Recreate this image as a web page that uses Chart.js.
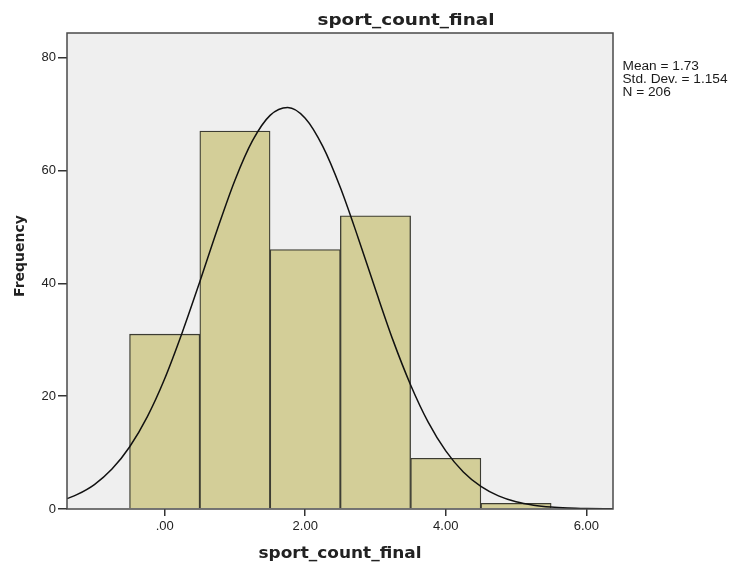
<!DOCTYPE html>
<html>
<head>
<meta charset="utf-8">
<script src="https://cdn.jsdelivr.net/npm/chart.js@4"></script>
<style>
  html, body { margin: 0; padding: 0; background: #fff; }
  #wrap { width: 737px; height: 565px; }
</style>
</head>
<body>
<div id="wrap"><canvas id="hist" width="737" height="565"></canvas></div>
<script>
/* histogram of sport_count_final, SPSS style */

var binCenters = [0, 1, 2, 3, 4, 5];
var binCounts = [31, 67, 46, 52, 9, 1];

/* normal curve */
var curveX = [-1.39, -1.25, -1.0, -0.75, -0.5, -0.25, 0, 0.25, 0.5, 0.75, 1.0, 1.25, 1.5, 1.75,
  2.0, 2.25, 2.5, 2.75, 3.0, 3.25, 3.5, 3.75, 4.0, 4.25, 4.5, 4.75, 5.0, 5.25, 5.5, 5.75, 6.0, 6.25, 6.38];
var curveY = [1.84, 2.54, 4.34, 7.08, 11.0, 16.3, 23.1, 31.3, 40.3, 49.6, 58.3, 65.3, 69.8, 71.2,
  69.3, 64.3, 57.0, 48.2, 38.9, 29.9, 22.0, 15.4, 10.3, 6.56, 4.00, 2.32, 1.28, 0.68, 0.34, 0.17, 0.08, 0.03, 0.02];

var xTicks = [0, 2, 4, 6];
var yTicks = [0, 20, 40, 60, 80];
var statsLines = ['Mean = 1.73', 'Std. Dev. = 1.154', 'N = 206'];
var titleText = 'sport_count_final';
var xTitle = 'sport_count_final';
var yTitle = 'Frequency';

var C = {
  plotBg: '#efefef',
  frame: '#4a4a4a',
  bar: '#d3ce98',
  barEdge: '#3c3c32',
  curve: '#111',
  text: '#222'
};

/* draw text squeezed/stretched to a target width (source picture is stretched sideways) */
function stretchText(ctx, txt, font, x, y, targetW, align) {
  ctx.save();
  ctx.font = font;
  var w = ctx.measureText(txt).width;
  var sx = targetW ? targetW / w : 1;
  var left = align === 'center' ? x - w * sx / 2 : x;
  ctx.translate(left, y);
  ctx.scale(sx, 1);
  ctx.textAlign = 'left';
  ctx.textBaseline = 'alphabetic';
  ctx.fillText(txt, 0, 0);
  ctx.restore();
}

var spssFrame = {
  id: 'spssFrame',
  beforeDraw: function (chart) {
    var a = chart.chartArea, ctx = chart.ctx;
    ctx.save();
    ctx.fillStyle = C.plotBg;
    ctx.fillRect(a.left, a.top, a.right - a.left, a.bottom - a.top);
    ctx.restore();
  },
  afterDraw: function (chart) {
    var a = chart.chartArea, ctx = chart.ctx;
    ctx.save();
    ctx.strokeStyle = C.frame;
    ctx.lineWidth = 1.5;
    ctx.strokeRect(a.left, a.top, a.right - a.left, a.bottom - a.top);

    ctx.fillStyle = C.text;
    /* main title */
    stretchText(ctx, titleText, 'bold 15px "DejaVu Sans"', 406, 24.5, 177, 'center');
    /* x axis title */
    stretchText(ctx, xTitle, 'bold 15px "DejaVu Sans"', (a.left + a.right) / 2, 558, 163, 'center');
    /* y axis title */
    ctx.save();
    ctx.translate(23.5, 256);
    ctx.rotate(-Math.PI / 2);
    ctx.font = 'bold 14px "DejaVu Sans"';
    ctx.textAlign = 'center';
    ctx.textBaseline = 'alphabetic';
    ctx.fillText(yTitle, 0, 0);
    ctx.restore();
    /* stats box text */
    ctx.fillStyle = '#1a1a1a';
    statsLines.forEach(function (s, i) {
      ctx.save();
      ctx.font = '12px "Liberation Sans"';
      var w = ctx.measureText(s).width;
      ctx.restore();
      stretchText(ctx, s, '12px "Liberation Sans"', 622.5, 69.5 + i * 13.3, w * 1.14, 'left');
    });
    ctx.restore();
  }
};

new Chart(document.getElementById('hist'), {
  type: 'bar',
  data: {
    datasets: [
      {
        type: 'line',
        data: curveX.map(function (x, i) { return { x: x, y: curveY[i] }; }),
        borderColor: C.curve,
        borderWidth: 1.5,
        pointRadius: 0,
        fill: false,
        cubicInterpolationMode: 'monotone'
      },
      {
        type: 'bar',
        data: binCenters.map(function (x, i) { return { x: x, y: binCounts[i] }; }),
        backgroundColor: C.bar,
        borderColor: C.barEdge,
        borderWidth: 1.3,
        barPercentage: 1,
        categoryPercentage: 1
      }
    ]
  },
  options: {
    responsive: false,
    animation: false,
    layout: { padding: { left: 0, right: 124, top: 33, bottom: 0 } },
    plugins: { legend: { display: false }, tooltip: { enabled: false }, title: { display: false } },
    scales: {
      x: {
        type: 'linear',
        offset: false,
        min: -1.39,
        max: 6.38,
        afterBuildTicks: function (s) { s.ticks = xTicks.map(function (v) { return { value: v }; }); },
        afterFit: function (s) { s.height = 56; },
        border: { display: false },
        grid: { offset: false, drawOnChartArea: false, drawTicks: true, tickLength: 7, color: '#333', lineWidth: 1.5 },
        ticks: {
          padding: 3,
          color: C.text,
          maxRotation: 0,
          font: { family: 'Liberation Sans', size: 13 },
          callback: function (v) { return v === 0 ? '.00' : v.toFixed(2); }
        }
      },
      y: {
        min: 0,
        max: 84.4,
        afterBuildTicks: function (s) { s.ticks = yTicks.map(function (v) { return { value: v }; }); },
        afterFit: function (s) { s.width = 67; },
        border: { display: false },
        grid: { drawOnChartArea: false, drawTicks: true, tickLength: 9, color: '#333', lineWidth: 1.5 },
        ticks: {
          padding: 2,
          color: C.text,
          font: { family: 'Liberation Sans', size: 13 }
        }
      }
    }
  },
  plugins: [spssFrame]
});
</script>
</body>
</html>
